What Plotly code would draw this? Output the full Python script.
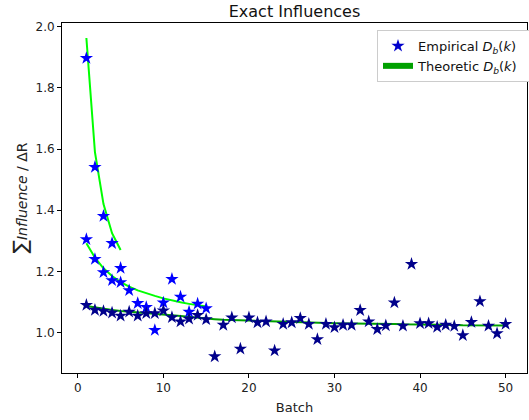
import plotly.graph_objects as go

# ---- data ----
batch_a = [1, 2, 3, 4, 5]
emp_a = [1.897, 1.541, 1.381, 1.292, 1.211]
theo_a = [1.963, 1.59, 1.42, 1.325, 1.27]

batch_b = list(range(1, 16))
emp_b = [1.305, 1.240, 1.197, 1.171, 1.164, 1.138, 1.096, 1.083, 1.008, 1.098,
         1.175, 1.117, 1.068, 1.094, 1.079]
theo_b = [1.292, 1.245, 1.21, 1.185, 1.165, 1.15, 1.138, 1.128, 1.12, 1.112,
          1.105, 1.099, 1.094, 1.089, 1.085]

batch_c = list(range(1, 51))
emp_c = [1.090, 1.074, 1.070, 1.065, 1.055, 1.068, 1.055, 1.063, 1.063, 1.072,
         1.050, 1.036, 1.045, 1.057, 1.043, 0.922, 1.025, 1.049, 0.947, 1.049,
         1.033, 1.036, 0.941, 1.028, 1.033, 1.047, 1.028, 0.978, 1.028, 1.017,
         1.025, 1.025, 1.073, 1.036, 1.011, 1.023, 1.098, 1.022, 1.224, 1.030,
         1.030, 1.018, 1.025, 1.021, 0.991, 1.034, 1.102, 1.022, 0.997, 1.028]
theo_c = [1.087, 1.082, 1.078, 1.074, 1.071, 1.069, 1.067, 1.065, 1.063, 1.060,
          1.057, 1.054, 1.051, 1.048, 1.046, 1.044, 1.042, 1.041, 1.040, 1.039,
          1.038, 1.037, 1.036, 1.035, 1.034, 1.033, 1.033, 1.032, 1.031, 1.031,
          1.030, 1.030, 1.030, 1.029, 1.029, 1.028, 1.028, 1.027, 1.027, 1.026,
          1.026, 1.025, 1.025, 1.025, 1.024, 1.024, 1.024, 1.023, 1.023, 1.023]

x_ticks = [0, 10, 20, 30, 40, 50]
y_ticks = [1.0, 1.2, 1.4, 1.6, 1.8, 2.0]

FONT = "DejaVu Sans, sans-serif"
LIME = "#00ff00"
GREEN = "#00a000"
BLUE = "#0000ff"
NAVY = "#00008b"

fig = go.Figure()

# theoretic lines
fig.add_trace(go.Scatter(x=batch_a, y=theo_a, mode="lines",
                         line=dict(color=LIME, width=2), showlegend=False))
fig.add_trace(go.Scatter(x=batch_b, y=theo_b, mode="lines",
                         line=dict(color=LIME, width=2), showlegend=False))
fig.add_trace(go.Scatter(x=batch_c, y=theo_c, mode="lines",
                         line=dict(color=GREEN, width=2), showlegend=False))

star = dict(symbol="star", size=10, line=dict(width=0))
fig.add_trace(go.Scatter(x=batch_a, y=emp_a, mode="markers",
                         marker=dict(color=BLUE, **star), showlegend=False))
fig.add_trace(go.Scatter(x=batch_b, y=emp_b, mode="markers",
                         marker=dict(color=BLUE, **star), showlegend=False))
fig.add_trace(go.Scatter(x=batch_c, y=emp_c, mode="markers",
                         marker=dict(color=NAVY, **star), showlegend=False))

# legend entries
fig.add_trace(go.Scatter(x=[None], y=[None], mode="markers",
                         marker=dict(color="#0000cc", symbol="star", size=10),
                         name="Empirical <i>D</i><sub><i>b</i></sub>(<i>k</i>)&nbsp;&nbsp;&nbsp;"))
fig.add_trace(go.Scatter(x=[None, None, None], y=[None, None, None], mode="none",
                         fill="toself", fillcolor=GREEN,
                         name="Theoretic <i>D</i><sub><i>b</i></sub>(<i>k</i>)&nbsp;&nbsp;&nbsp;"))

axis_common = dict(showline=True, linecolor="black", linewidth=1, mirror=True,
                   ticks="outside", ticklen=4, tickcolor="black", showgrid=False,
                   zeroline=False, automargin=False,
                   tickfont=dict(family=FONT, size=12, color="#222"))

fig.update_layout(
    template="none",
    width=529, height=420,
    margin=dict(l=62, r=2, t=23, b=47, autoexpand=False),
    paper_bgcolor="white", plot_bgcolor="white",
    font=dict(family=FONT, color="#222"),
    title=dict(text="Exact Influences", x=0.5, xref="paper", xanchor="center",
               y=(420 - 11) / 420, yref="container", yanchor="middle",
               font=dict(family=FONT, size=16, color="#111")),
    xaxis=dict(range=[-1.85, 52.5], tickvals=x_ticks,
               title=dict(text="Batch", font=dict(family=FONT, size=13), standoff=8),
               **axis_common),
    yaxis=dict(range=[0.868, 2.012], tickvals=y_ticks, tickformat=".1f",
               title=dict(text="<span style='font-size:20px'>∑</span><i>Influence</i> / ΔR",
                          font=dict(family=FONT, size=14), standoff=4),
               **axis_common),
    legend=dict(x=(377 - 62) / 465, y=(373 - 30) / 350, xanchor="left", yanchor="top",
                bgcolor="white", bordercolor="#cccccc", borderwidth=1,
                font=dict(family=FONT, size=13, color="#111"),
                tracegroupgap=2, itemwidth=30),
)

fig.write_html("out.html",
               config={"displayModeBar": False},
               post_script="document.body.style.margin='0';document.body.style.overflow='hidden';")
